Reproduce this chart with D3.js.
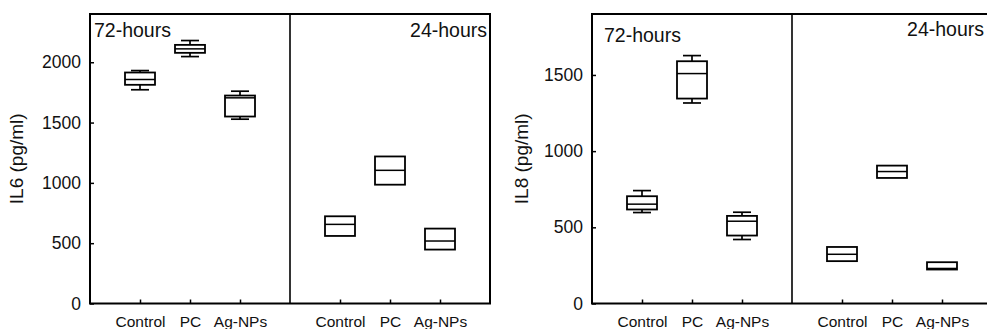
<!DOCTYPE html>
<html>
<head>
<meta charset="utf-8">
<script src="https://cdn.jsdelivr.net/npm/d3@7"></script>
<style>
  body { margin: 0; background: #fff; }
  svg { display: block; font-family: Arial, "Liberation Sans", sans-serif; }
</style>
</head>
<body>
<div class="visHolder"></div>
<script>
// categories and periods
const categories = ['Control', 'PC', 'Ag-NPs'];
const periods = ['72-hours', '24-hours'];

// box stats: [min, q1, median, q3, max] per category
const il6_72h = [[1772, 1813, 1857, 1915, 1931], [2047, 2078, 2111, 2144, 2180], [1528, 1550, 1705, 1724, 1760]];
const il6_24h = [[560, 560, 656, 723, 723], [985, 985, 1104, 1219, 1219], [447, 447, 518, 621, 621]];
const il8_72h = [[597, 617, 652, 704, 741], [1316, 1345, 1509, 1590, 1627], [420, 446, 540, 575, 599]];
const il8_24h = [[278, 278, 323, 371, 371], [824, 824, 866, 905, 905], [223, 223, 230, 271, 271]];

// y tick labels
const il6Ticks = [0, 500, 1000, 1500, 2000];
const il8Ticks = [0, 500, 1000, 1500];

const w = 987, h = 329;
const yTop = 14, yBottom = 303.5, panelW = 200;

const svg = d3.select('.visHolder')
  .append('svg')
  .attr('width', w)
  .attr('height', h);

function drawChart(left, yMax, ticks, label, labelX, series, labelPos) {
  const g = svg.append('g');

  const yScale = d3.scaleLinear()
    .domain([0, yMax])
    .range([yBottom, yTop]);

  // frame (left, top, bottom and both panel right edges)
  g.append('rect')
    .attr('x', left).attr('y', yTop)
    .attr('width', panelW * 2).attr('height', yBottom - yTop)
    .attr('fill', 'none').attr('stroke', '#000').attr('stroke-width', 2);
  g.append('line')
    .attr('x1', left + panelW).attr('x2', left + panelW)
    .attr('y1', yTop).attr('y2', yBottom)
    .attr('stroke', '#000').attr('stroke-width', 1.6);

  // y axis
  const yAxis = d3.axisLeft(yScale)
    .tickValues(ticks)
    .tickFormat(d3.format('d'))
    .tickSizeInner(-4)
    .tickSizeOuter(0)
    .tickPadding(9);
  const ya = g.append('g')
    .attr('transform', `translate(${left}, 0)`)
    .call(yAxis);
  ya.select('.domain').remove();
  ya.selectAll('line').attr('stroke-width', 1.5);
  ya.selectAll('text')
    .attr('font-size', '17.5px')
    .attr('font-family', 'Arial, "Liberation Sans", sans-serif')
    .attr('fill', '#111');

  g.append('text')
    .attr('transform', `translate(${labelX}, ${(yTop + yBottom) / 2}) rotate(-90)`)
    .attr('text-anchor', 'middle')
    .attr('font-size', '19px')
    .attr('fill', '#111')
    .text(label);

  series.forEach((data, p) => {
    const pLeft = left + p * panelW;
    const xScale = d3.scalePoint()
      .domain(categories)
      .range([pLeft, pLeft + panelW])
      .padding(1);

    const xAxis = d3.axisBottom(xScale)
      .tickSizeInner(-4)
      .tickSizeOuter(0)
      .tickPadding(12);
    const xa = g.append('g')
      .attr('transform', `translate(0, ${yBottom})`)
      .call(xAxis);
    xa.select('.domain').remove();
    xa.selectAll('line').attr('stroke-width', 1.5);
    xa.selectAll('text')
      .attr('font-size', '15.5px')
      .attr('font-family', 'Arial, "Liberation Sans", sans-serif')
      .attr('fill', '#111');

    // period label
    const lp = labelPos[p];
    g.append('text')
      .attr('x', p === 0 ? pLeft + lp[0] : pLeft + panelW - lp[0])
      .attr('y', lp[1])
      .attr('text-anchor', p === 0 ? 'start' : 'end')
      .attr('font-size', '19.5px')
      .attr('fill', '#111')
      .text(periods[p]);

    const boxHalf = 15, capHalf = 9;
    const boxes = g.selectAll(null)
      .data(data.map((d, i) => ({cat: categories[i], s: d})))
      .enter()
      .append('g');

    // whiskers
    boxes.append('line')
      .attr('x1', d => xScale(d.cat)).attr('x2', d => xScale(d.cat))
      .attr('y1', d => yScale(d.s[0])).attr('y2', d => yScale(d.s[1]))
      .attr('stroke', '#000').attr('stroke-width', 1.7);
    boxes.append('line')
      .attr('x1', d => xScale(d.cat)).attr('x2', d => xScale(d.cat))
      .attr('y1', d => yScale(d.s[3])).attr('y2', d => yScale(d.s[4]))
      .attr('stroke', '#000').attr('stroke-width', 1.7);
    [0, 4].forEach(k => {
      boxes.filter(d => d.s[k] !== d.s[k === 0 ? 1 : 3])
        .append('line')
        .attr('x1', d => xScale(d.cat) - capHalf).attr('x2', d => xScale(d.cat) + capHalf)
        .attr('y1', d => yScale(d.s[k])).attr('y2', d => yScale(d.s[k]))
        .attr('stroke', '#000').attr('stroke-width', 1.7);
    });

    // box
    boxes.append('rect')
      .attr('x', d => xScale(d.cat) - boxHalf)
      .attr('y', d => yScale(d.s[3]))
      .attr('width', boxHalf * 2)
      .attr('height', d => yScale(d.s[1]) - yScale(d.s[3]))
      .attr('fill', 'none').attr('stroke', '#000').attr('stroke-width', 1.8);

    // median
    boxes.append('line')
      .attr('x1', d => xScale(d.cat) - boxHalf).attr('x2', d => xScale(d.cat) + boxHalf)
      .attr('y1', d => yScale(d.s[2])).attr('y2', d => yScale(d.s[2]))
      .attr('stroke', '#000').attr('stroke-width', 1.5);
  });
}

drawChart(90, 2400, il6Ticks, 'IL6 (pg/ml)', 23, [il6_72h, il6_24h], [[4, 36.5], [3, 36.5]]);
drawChart(592, 1900, il8Ticks, 'IL8 (pg/ml)', 528, [il8_72h, il8_24h], [[12, 41.5], [8, 36]]);
</script>
</body>
</html>
